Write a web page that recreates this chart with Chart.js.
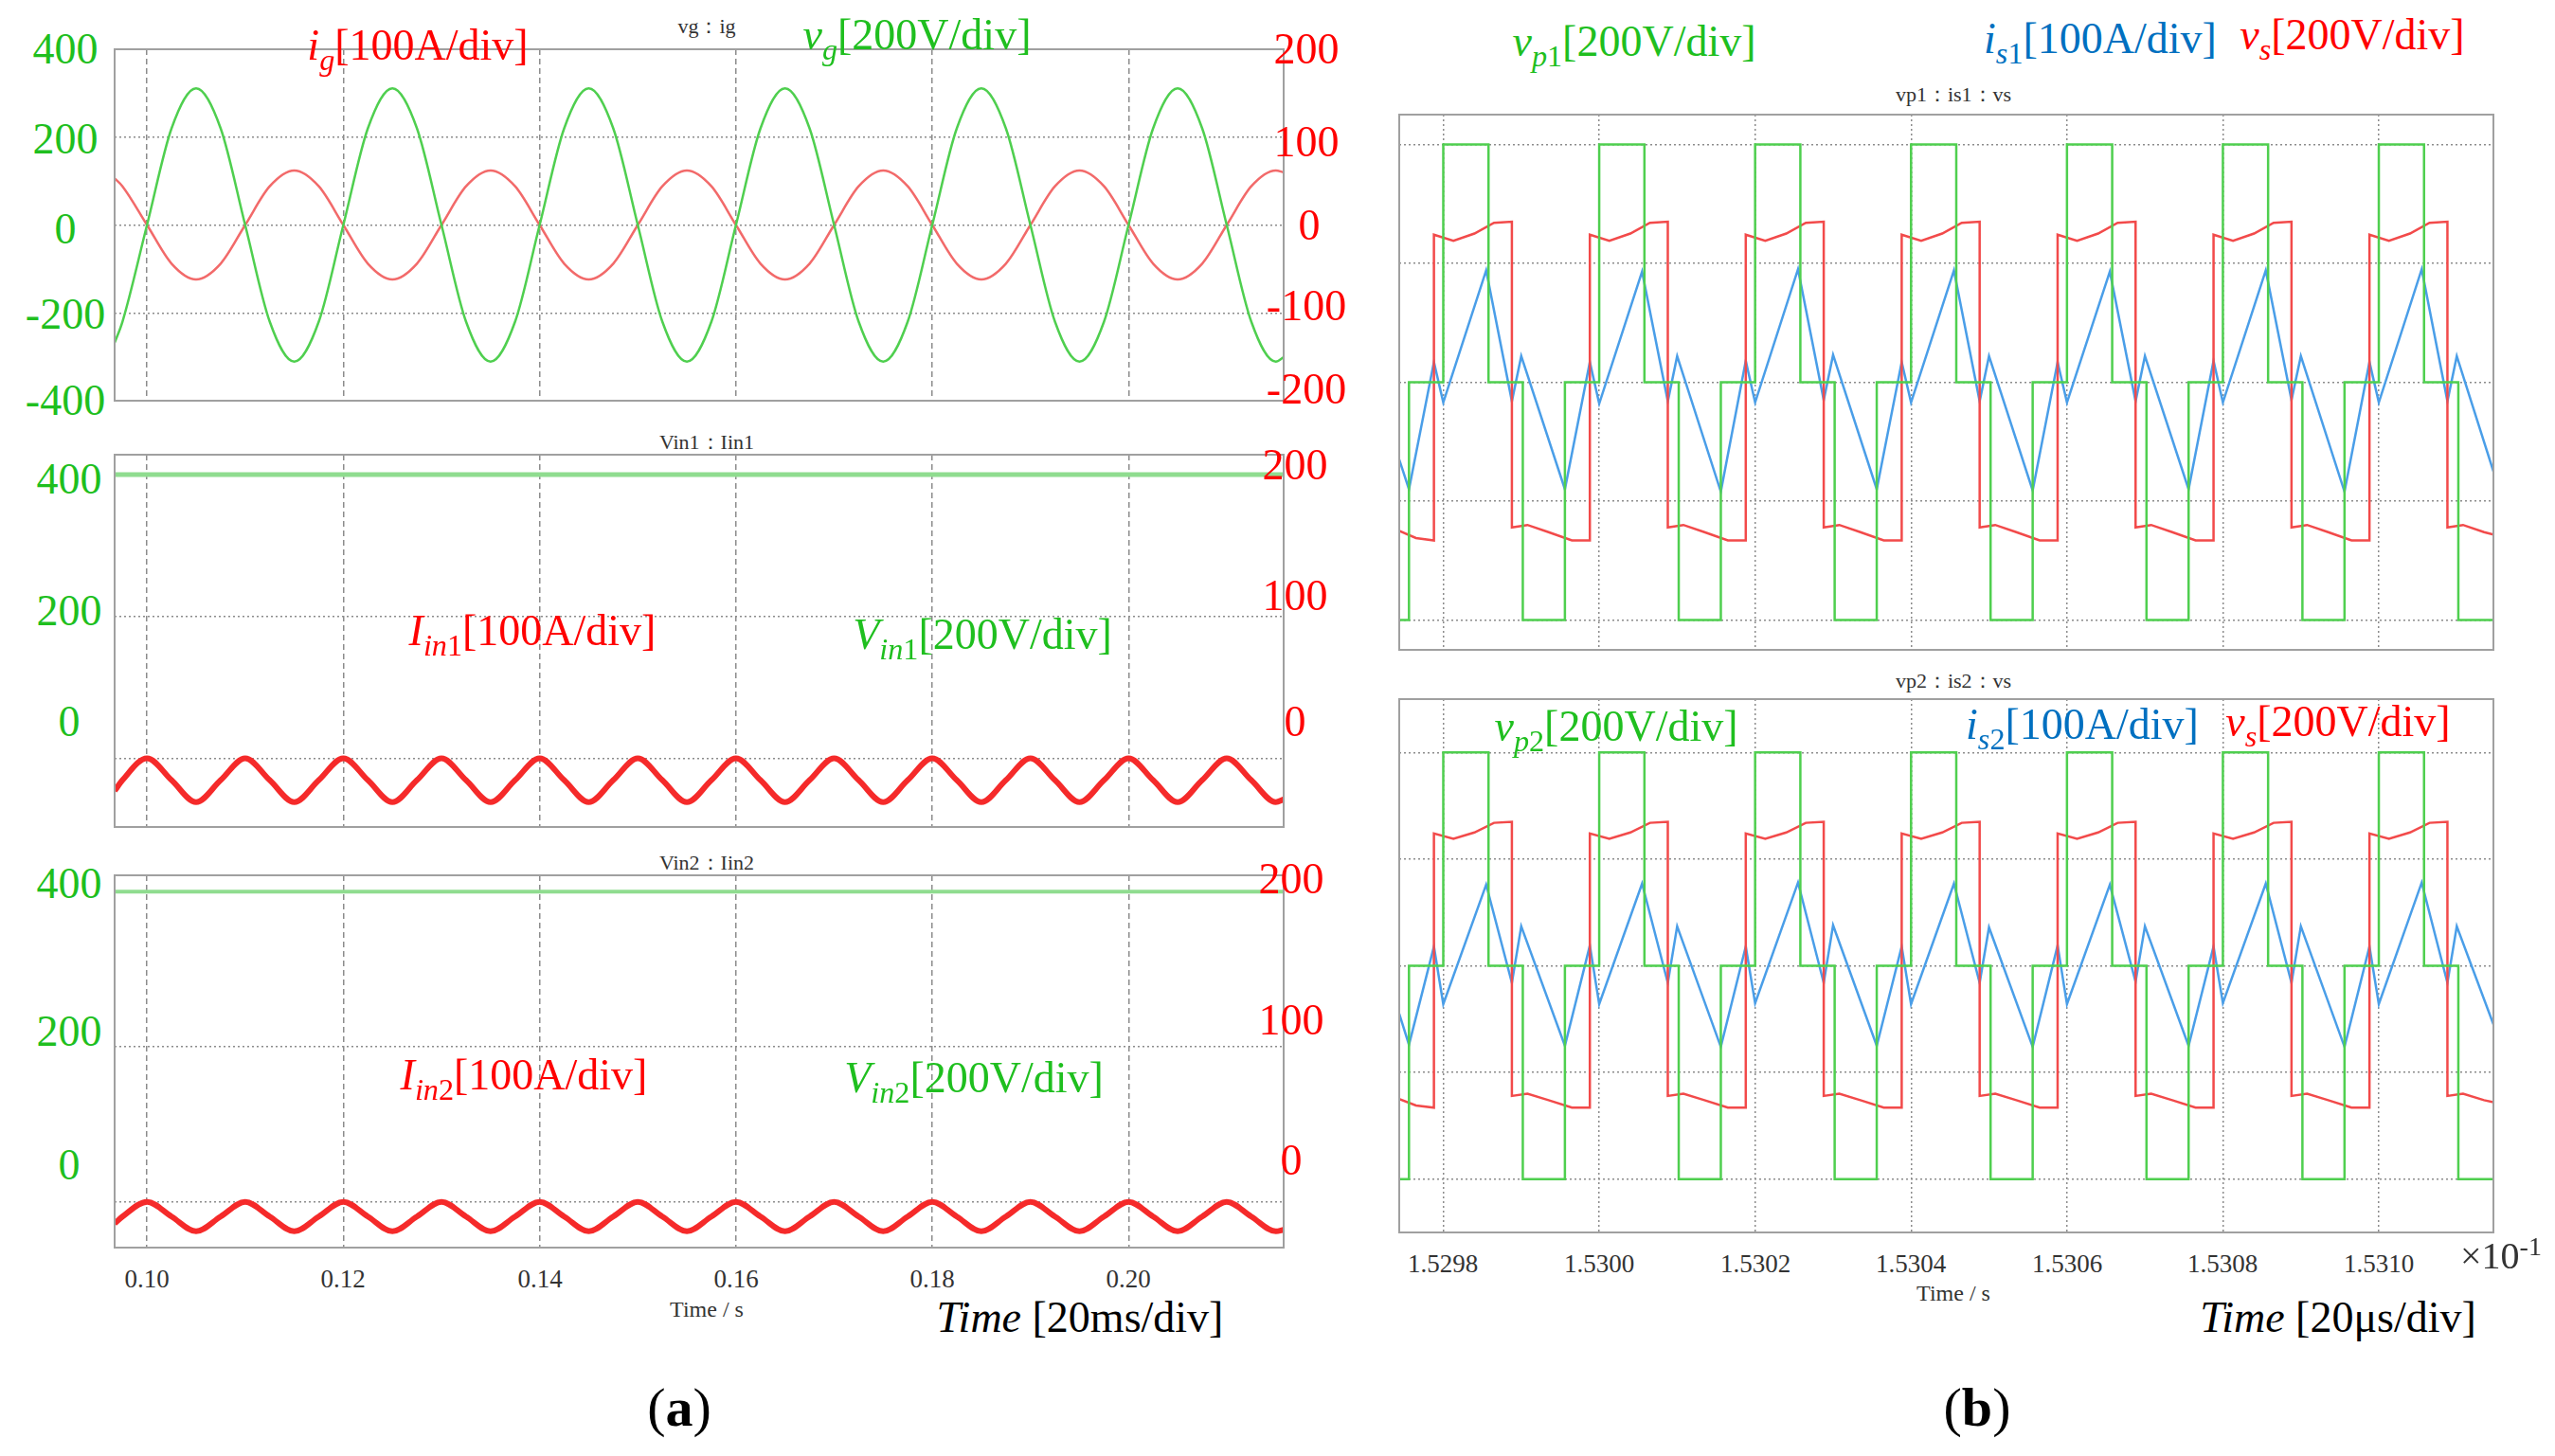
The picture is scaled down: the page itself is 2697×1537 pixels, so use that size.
<!DOCTYPE html>
<html lang="en">
<head>
<meta charset="UTF-8">
<title>Grid and converter waveforms</title>
<script src="https://cdn.jsdelivr.net/npm/chart.js"></script>
<style>
  body { margin:0; background:#fff; width:2697px; height:1537px; overflow:hidden; position:relative; font-family:"Liberation Serif", serif; }
  canvas { position:absolute; }
  .frame { position:absolute; border:2px solid #a0a0a0; box-sizing:border-box; pointer-events:none; }
  .lbl { position:absolute; transform:translate(-50%,-50%); white-space:nowrap; line-height:1; }
  sub { font-size:70%; vertical-align:-0.35em; }
</style>
</head>
<body>
<script>
// ---- panel (a): grid side, time in s ----
const tGrid = [0.0967,
  0.0975,0.1,0.1025,0.105,0.1075,0.11,0.1125,0.115,0.1175,0.12,0.1225,0.125,0.1275,0.13,0.1325,0.135,
  0.1375,0.14,0.1425,0.145,0.1475,0.15,0.1525,0.155,0.1575,0.16,0.1625,0.165,0.1675,0.17,0.1725,0.175,
  0.1775,0.18,0.1825,0.185,0.1875,0.19,0.1925,0.195,0.1975,0.2,0.2025,0.205,0.2075,0.21,0.2125,0.215,
  0.2158];
const vg = [-268,
  -220,0,220,311,220,0,-220,-311, -220,0,220,311,220,0,-220,-311, -220,0,220,311,220,0,-220,-311,
  -220,0,220,311,220,0,-220,-311, -220,0,220,311,220,0,-220,-311, -220,0,220,311,220,0,-220,-311,
  -301];
const ig = [53,
  44,0,-44,-62,-44,0,44,62, 44,0,-44,-62,-44,0,44,62, 44,0,-44,-62,-44,0,44,62,
  44,0,-44,-62,-44,0,44,62, 44,0,-44,-62,-44,0,44,62, 44,0,-44,-62,-44,0,44,62,
  60];
const iin1 = [-23,
  -15.5,0,-15.5,-31, -15.5,0,-15.5,-31, -15.5,0,-15.5,-31, -15.5,0,-15.5,-31,
  -15.5,0,-15.5,-31, -15.5,0,-15.5,-31, -15.5,0,-15.5,-31, -15.5,0,-15.5,-31,
  -15.5,0,-15.5,-31, -15.5,0,-15.5,-31, -15.5,0,-15.5,-31, -15.5,0,-15.5,-31,
  -29];
const iin2 = [-14,
  -9.5,0,-9.5,-19, -9.5,0,-9.5,-19, -9.5,0,-9.5,-19, -9.5,0,-9.5,-19,
  -9.5,0,-9.5,-19, -9.5,0,-9.5,-19, -9.5,0,-9.5,-19, -9.5,0,-9.5,-19,
  -9.5,0,-9.5,-19, -9.5,0,-9.5,-19, -9.5,0,-9.5,-19, -9.5,0,-9.5,-19,
  -18];
const tDc = [0.0967, 0.2158];
const vin1 = [400, 400];
const vin2 = [400, 400];
const aTicks = [0.10,0.12,0.14,0.16,0.18,0.20];
const aTickText = ['0.10','0.12','0.14','0.16','0.18','0.20'];

// ---- panel (b): transformer side, time in us after 1.5298e-1 s, values in div ----
const bTicks = [0,20,40,60,80,100,120];
const bTickText = ['1.5298','1.5300','1.5302','1.5304','1.5306','1.5308','1.5310'];
const vpT = [-5.65,-4.4,0,5.8,10.2,15.6,20,25.8,30.2,35.6,40,45.8,50.2,55.6,60,65.8,70.2,75.6,
  80,85.8,90.2,95.6,100,105.8,110.2,115.6,120,125.8,130.2,134.7];
const vpV = [-2,0,2,0,-2,0,2,0,-2,0,2,0,-2,0,2,0,-2,0,2,0,-2,0,2,0,-2,0,2,0,-2,-2];
const vsT = [-5.65,-3.5,-1.2,
  -1.2,1.3,4,6.5,8.8,8.8,10.8,13.5,16.5,18.8,
  18.8,21.3,24,26.5,28.8,28.8,30.8,33.5,36.5,38.8,
  38.8,41.3,44,46.5,48.8,48.8,50.8,53.5,56.5,58.8,
  58.8,61.3,64,66.5,68.8,68.8,70.8,73.5,76.5,78.8,
  78.8,81.3,84,86.5,88.8,88.8,90.8,93.5,96.5,98.8,
  98.8,101.3,104,106.5,108.8,108.8,110.8,113.5,116.5,118.8,
  118.8,121.3,124,126.5,128.8,128.8,130.8,133.5,134.7];
const vsV = [-1.25,-1.31,-1.33,
  1.24,1.19,1.25,1.34,1.35,-1.22,-1.2,-1.26,-1.33,-1.33,
  1.24,1.19,1.25,1.34,1.35,-1.22,-1.2,-1.26,-1.33,-1.33,
  1.24,1.19,1.25,1.34,1.35,-1.22,-1.2,-1.26,-1.33,-1.33,
  1.24,1.19,1.25,1.34,1.35,-1.22,-1.2,-1.26,-1.33,-1.33,
  1.24,1.19,1.25,1.34,1.35,-1.22,-1.2,-1.26,-1.33,-1.33,
  1.24,1.19,1.25,1.34,1.35,-1.22,-1.2,-1.26,-1.33,-1.33,
  1.24,1.19,1.25,1.34,1.35,-1.22,-1.2,-1.26,-1.28];
const isT = [-5.65,-4.4,
  -1.2,0,5.5,8.8,10,15.6, 18.8,20,25.5,28.8,30,35.6, 38.8,40,45.5,48.8,50,55.6,
  58.8,60,65.5,68.8,70,75.6, 78.8,80,85.5,88.8,90,95.6, 98.8,100,105.5,108.8,110,115.6,
  118.8,120,125.5,128.8,130,134.7];
const is1 = [-0.65,-0.9,
  0.17,-0.17,0.94,-0.16,0.22,-0.9, 0.17,-0.18,0.93,-0.16,0.22,-0.92, 0.18,-0.17,0.95,-0.15,0.23,-0.9,
  0.17,-0.17,0.94,-0.16,0.22,-0.91, 0.17,-0.17,0.93,-0.16,0.22,-0.9, 0.18,-0.17,0.94,-0.15,0.22,-0.92,
  0.17,-0.17,0.95,-0.16,0.22,-0.75];
const is2 = [-0.45,-0.74,
  0.18,-0.36,0.76,-0.16,0.37,-0.75, 0.19,-0.36,0.77,-0.16,0.37,-0.76, 0.18,-0.35,0.78,-0.16,0.38,-0.75,
  0.18,-0.36,0.77,-0.16,0.36,-0.76, 0.19,-0.36,0.76,-0.15,0.37,-0.75, 0.18,-0.35,0.77,-0.16,0.37,-0.76,
  0.18,-0.36,0.78,-0.16,0.37,-0.55];

const K = 1.728;
const P = v => Math.round(v * K);
const GREEN = '#4fcf4f', RED = '#f24a4a', BLUE = '#4a9ee8';
const TXTG = '#1fbf1f', TXTR = '#ff0000', TXTB = '#0070c0';

function pts(xs, ys) { return xs.map((x, i) => ({ x: x, y: ys[i] })); }

function line(xs, ys, color, width, axis, extra) {
  return Object.assign({ data: pts(xs, ys), borderColor: color, borderWidth: width,
    pointRadius: 0, yAxisID: axis || 'y', fill: false, tension: 0 }, extra || {});
}

function panel(rect, xr, xGrid, yr, yGrid, y2r, datasets, dashX) {
  const c = document.createElement('canvas');
  const w = P(rect.r) - P(rect.l), h = P(rect.b) - P(rect.t);
  c.width = w; c.height = h;
  c.style.left = P(rect.l) + 'px'; c.style.top = P(rect.t) + 'px';
  document.body.appendChild(c);
  const f = document.createElement('div');
  f.className = 'frame';
  f.style.left = (P(rect.l) - 1) + 'px'; f.style.top = (P(rect.t) - 1) + 'px';
  f.style.width = (w + 2) + 'px'; f.style.height = (h + 2) + 'px';
  document.body.appendChild(f);
  const hide = { display: false };
  return new Chart(c, {
    type: 'line',
    data: { datasets: datasets },
    options: {
      responsive: false, animation: false, devicePixelRatio: 1,
      layout: { padding: 0 },
      plugins: { legend: hide, tooltip: { enabled: false } },
      scales: {
        x: { type: 'linear', min: xr[0], max: xr[1], ticks: hide,
             afterBuildTicks: s => { s.ticks = xGrid.map(v => ({ value: v })); },
             grid: { color: '#8c8c8c', lineWidth: 1.5, drawTicks: false },
             border: { display: false, dash: dashX } },
        y: { min: yr[0], max: yr[1], ticks: hide,
             afterBuildTicks: s => { s.ticks = yGrid.map(v => ({ value: v })); },
             grid: { color: '#8c8c8c', lineWidth: 1.5, drawTicks: false },
             border: { display: false, dash: [2, 3] } },
        y2: { position: 'right', min: y2r[0], max: y2r[1], display: false }
      }
    }
  });
}

function text(html, cx, cy, size, color, extra) {
  const d = document.createElement('div');
  d.className = 'lbl';
  d.innerHTML = html;
  d.style.left = P(cx) + 'px'; d.style.top = P(cy) + 'px';
  d.style.fontSize = size + 'px'; d.style.color = color;
  if (extra) Object.assign(d.style, extra);
  document.body.appendChild(d);
}

const aX = [0.0967, 0.2158];
const bX = [-5.65, 134.7];

// (a) top: vg / ig
panel({ l: 70, r: 784, t: 30, b: 245 }, aX, aTicks, [-400, 400], [-200, 0, 200], [-200, 200], [
  line(tGrid, vg, GREEN, 2.5, 'y', { cubicInterpolationMode: 'monotone' }),
  line(tGrid, ig, '#f26a6a', 2.5, 'y2', { cubicInterpolationMode: 'monotone' })
], [6, 4]);
// (a) middle: Vin1 / Iin1
panel({ l: 70, r: 784, t: 278, b: 505 }, aX, aTicks, [-97, 428], [0, 200], [-48.5, 214], [
  line(tDc, vin1, '#8fdc8f', 5),
  line(tGrid, iin1, '#f52a2a', 6, 'y2', { cubicInterpolationMode: 'monotone' })
], [6, 4]);
// (a) bottom: Vin2 / Iin2
const a3 = panel({ l: 70, r: 784, t: 535, b: 762 }, aX, aTicks, [-59, 421], [0, 200], [-29.5, 210.5], [
  line(tDc, vin2, '#8fdc8f', 4),
  line(tGrid, iin2, '#f52a2a', 6, 'y2', { cubicInterpolationMode: 'monotone' })
], [6, 4]);
// (b) top: vp1 / is1 / vs
panel({ l: 855, r: 1523, t: 70, b: 397 }, bX, bTicks, [-2.25, 2.25], [-2, -1, 0, 1, 2], [-2.25, 2.25], [
  line(vpT, vpV, GREEN, 2.5, 'y', { stepped: 'before' }),
  line(vsT, vsV, RED, 2.5),
  line(isT, is1, BLUE, 2.5)
], [2, 3]);
// (b) bottom: vp2 / is2 / vs
const b2 = panel({ l: 855, r: 1523, t: 427, b: 753 }, bX, bTicks, [-2.5, 2.5], [-2, -1, 0, 1, 2], [-2.5, 2.5], [
  line(vpT, vpV, GREEN, 2.5, 'y', { stepped: 'before' }),
  line(vsT, vsV, RED, 2.5),
  line(isT, is2, BLUE, 2.5)
], [2, 3]);

// axis tick labels (a)
const big = 46, small = 22;
[['400',30],['200',85],['0',140],['-200',192],['-400',245]].forEach(p => text(p[0], 40, p[1], big, TXTG));
[['200',798],['100',798],['0',800],['-100',798],['-200',798]].forEach((p, i) =>
  text(p[0], p[1], [30, 87, 138, 187, 238][i], big, TXTR));
[['400',293],['200',373],['0',441]].forEach(p => text(p[0], 42, p[1], big, TXTG));
[['200',284],['100',364],['0',441]].forEach(p => text(p[0], 791, p[1], big, TXTR));
[['400',540],['200',630],['0',712]].forEach(p => text(p[0], 42, p[1], big, TXTG));
[['200',537],['100',623],['0',709]].forEach(p => text(p[0], 789, p[1], big, TXTR));
aTicks.forEach((v, i) => {
  const x = (P(70) + a3.scales.x.getPixelForValue(v)) / K;
  text(aTickText[i], x, 781, 27, '#333');
});
bTicks.forEach((v, i) => {
  const x = (P(855) + b2.scales.x.getPixelForValue(v)) / K;
  text(bTickText[i], x, 772, 27, '#333');
});
text('×10<sup style="font-size:70%">-1</sup>', 1528, 766, 40, '#333');

// panel titles
text('vg：ig', 432, 16, small, '#333');
text('Vin1：Iin1', 432, 270, small, '#333');
text('Vin2：Iin2', 432, 527, small, '#333');
text('vp1：is1：vs', 1193, 58, small, '#333');
text('vp2：is2：vs', 1193, 416, small, '#333');
text('Time / s', 432, 800, 24, '#333');
text('Time / s', 1193, 790, 24, '#333');

// signal annotations
text('<i>i</i><sub><i>g</i></sub>[100A/div]', 255, 30, big, TXTR);
text('<i>v</i><sub><i>g</i></sub>[200V/div]', 560, 24, big, TXTG);
text('<i>I</i><sub><i>in</i>1</sub>[100A/div]', 325, 388, big, TXTR);
text('<i>V</i><sub><i>in</i>1</sub>[200V/div]', 600, 390, big, TXTG);
text('<i>I</i><sub><i>in</i>2</sub>[100A/div]', 320, 659, big, TXTR);
text('<i>V</i><sub><i>in</i>2</sub>[200V/div]', 595, 661, big, TXTG);
text('<i>v</i><sub><i>p</i>1</sub>[200V/div]', 998, 28, big, TXTG);
text('<i>i</i><sub><i>s</i>1</sub>[100A/div]', 1283, 26, big, TXTB);
text('<i>v</i><sub><i>s</i></sub>[200V/div]', 1437, 24, big, TXTR);
text('<i>v</i><sub><i>p</i>2</sub>[200V/div]', 987, 446, big, TXTG);
text('<i>i</i><sub><i>s</i>2</sub>[100A/div]', 1272, 445, big, TXTB);
text('<i>v</i><sub><i>s</i></sub>[200V/div]', 1428, 443, big, TXTR);

text('<i>Time</i> [20ms/div]', 660, 805, 46, '#000');
text('<i>Time</i> [20μs/div]', 1428, 805, 46, '#000');
text('(<b>a</b>)', 415, 860, 58, '#000');
text('(<b>b</b>)', 1208, 860, 58, '#000');
</script>
</body>
</html>
